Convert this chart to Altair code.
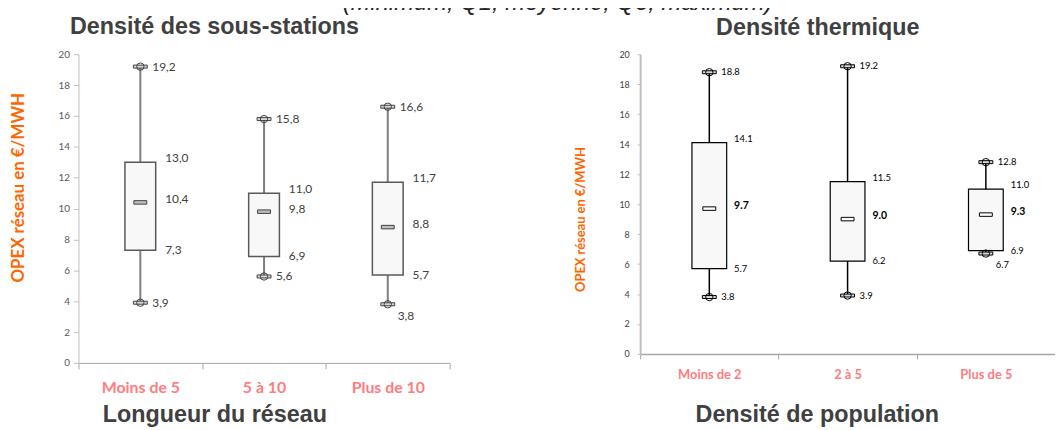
import altair as alt
import pandas as pd

# ---------------- data ----------------
subtitle = "(Minimum, Q1, moyenne, Q3, maximum)"

left_title = "Densité des sous-stations"
left_xtitle = "Longueur du réseau"
left_cats = ["Moins de 5", "5 à 10", "Plus de 10"]
left_min = [3.9, 5.6, 3.8]
left_q1 = [7.3, 6.9, 5.7]
left_mean = [10.4, 9.8, 8.8]
left_q3 = [13.0, 11.0, 11.7]
left_max = [19.2, 15.8, 16.6]

right_title = "Densité thermique"
right_xtitle = "Densité de population"
right_cats = ["Moins de 2", "2 à 5", "Plus de 5"]
right_min = [3.8, 3.9, 6.7]
right_q1 = [5.7, 6.2, 6.9]
right_mean = [9.7, 9.0, 9.3]
right_q3 = [14.1, 11.5, 11.0]
right_max = [18.8, 19.2, 12.8]

y_title = "OPEX réseau en €/MWH"
y_ticks = [0, 2, 4, 6, 8, 10, 12, 14, 16, 18, 20]


def fmt_comma(v):
    return f"{v:.1f}".replace(".", ",")


def fmt_dot(v):
    return f"{v:.1f}"


def build_df(cats, mn, q1, mean, q3, mx, fmt):
    return pd.DataFrame({
        "cat": cats, "min": mn, "q1": q1, "mean": mean, "q3": q3, "max": mx,
        "lmin": [fmt(v) for v in mn], "lq1": [fmt(v) for v in q1],
        "lmean": [fmt(v) for v in mean], "lq3": [fmt(v) for v in q3],
        "lmax": [fmt(v) for v in mx],
    })


left_df = build_df(left_cats, left_min, left_q1, left_mean, left_q3, left_max, fmt_comma)
right_df = build_df(right_cats, right_min, right_q1, right_mean, right_q3, right_max, fmt_dot)

TITLE_FONT = "Liberation Sans"
LABEL_FONT = "Lato"
ORANGE = "#FF6600"
PINK = "#FF7C80"
DARK = "#404040"
TITLE_SIZE = 23.5


def panel(df, cats, s):
    xaxis = alt.Axis(
        title=s["xtitle"], titleFont=TITLE_FONT, titleFontSize=TITLE_SIZE, titleFontWeight="bold",
        titleColor=DARK, titleX=s["xtitleX"], titleY=s["xtitleY"], titleBaseline="alphabetic",
        titleAlign="center", labelFont=LABEL_FONT, labelFontSize=s["xlabelSize"],
        labelFontWeight="bold", labelColor=PINK, labelPadding=s["xlabelPad"],
        tickSize=s["xtickSize"], tickColor="#A6A6A6", domainColor="#A6A6A6",
        domainWidth=s["xdomainWidth"], tickWidth=1, tickBand="extent", labelAngle=0, grid=False,
    )
    xenc = alt.X("cat:N", sort=cats, scale=alt.Scale(paddingInner=0, paddingOuter=0), axis=xaxis)
    yscale = alt.Scale(domain=[0, 20], nice=False, zero=True)
    yaxis = alt.Axis(
        values=y_ticks, title=y_title, titleColor=ORANGE, titleFont=LABEL_FONT,
        titleFontSize=s["ytitleSize"], titleFontWeight="bold", titleX=s["ytitleX"],
        titleY=s["ytitleY"], titleAngle=270, titleBaseline="middle", titleAlign="center",
        labelFont=LABEL_FONT, labelFontSize=s["ylabelSize"], labelColor=s["ylabelColor"],
        labelPadding=s["ylabelPad"], tickSize=s["ytickSize"], tickColor="#BFBFBF",
        domainColor="#BFBFBF", domainWidth=s["ydomainWidth"], grid=False,
        labelFlush=False, labelOverlap=False,
    )

    def Y(f):
        return alt.Y(f, type="quantitative", scale=yscale, axis=yaxis)

    base = alt.Chart(df).encode(x=xenc)
    whisk = base.mark_rule(color=s["whisker"], strokeWidth=s["whiskerW"]).encode(
        y=Y("min"), y2=alt.Y2("max"))
    box = base.mark_bar(size=s["boxW"], fill="#F8F8F8", stroke=s["boxStroke"],
                        strokeWidth=s["boxStrokeW"]).encode(y=Y("q1"), y2=alt.Y2("q3"))
    mean = base.mark_tick(size=13, thickness=3.5, fill=s["meanFill"], stroke=s["markStroke"],
                          strokeWidth=1, opacity=1).encode(y=Y("mean"))
    layers = [whisk, box, mean]
    for f in ["min", "max"]:
        layers.append(base.mark_tick(size=14, thickness=3, fill="#D9D9D9", stroke=s["markStroke"],
                                     strokeWidth=1, opacity=1).encode(y=Y(f)))
        layers.append(base.mark_point(shape="circle", size=55, filled=False,
                                      stroke=s["markStroke"], strokeWidth=1, opacity=1)
                      .encode(y=Y(f)))

    def lab(field, dx, dy, bold=False, filt=None):
        c = base.mark_text(align="left", baseline="middle", dx=dx, dy=dy, font=LABEL_FONT,
                           fontSize=s["boldSize"] if bold else s["labSize"],
                           fontWeight="bold" if bold else "normal", color=s["labColor"])
        if filt is not None:
            c = c.transform_filter(filt)
        return c.encode(y=Y(field), text=alt.Text("l" + field + ":N"))

    sp = s["special"]
    layers += [
        lab("max", 12, 0),
        lab("q3", 25, -4),
        lab("mean", 25, -3, bold=s["meanBold"]),
        lab("q1", 25, 0),
        lab("min", 12, 0, filt=alt.datum.cat != sp),
        lab("min", 10, 12, filt=alt.datum.cat == sp),
    ]
    return alt.layer(*layers).properties(
        width=s["w"], height=s["h"],
        title=alt.TitleParams(s["title"], font=TITLE_FONT, fontSize=TITLE_SIZE, fontWeight="bold",
                              color=DARK, anchor="middle", dx=s["titleDx"], offset=s["titleOff"],
                              frame="group"),
    )


left = panel(left_df, left_cats, dict(
    xtitle=left_xtitle, title=left_title, w=374, h=311, titleDx=-50, titleOff=11,
    xtitleX=137, xtitleY=59, xlabelSize=16, xlabelPad=11, xtickSize=6, xdomainWidth=1,
    ytitleSize=17, ytitleX=-60, ytitleY=134, ylabelSize=10, ylabelColor="#595959",
    ylabelPad=4, ytickSize=5, ydomainWidth=1,
    whisker="#7F7F7F", whiskerW=2, boxW=31, boxStroke="#595959", boxStrokeW=1.5,
    meanFill="#BFBFBF", markStroke="#404040", labSize=12, boldSize=12, labColor=DARK,
    meanBold=False, special="Plus de 10",
))

right = panel(right_df, right_cats, dict(
    xtitle=right_xtitle, title=right_title, w=418, h=302, titleDx=-30, titleOff=11,
    xtitleX=178, xtitleY=68, xlabelSize=13, xlabelPad=10, xtickSize=5, xdomainWidth=1.5,
    ytitleSize=13, ytitleX=-60, ytitleY=166, ylabelSize=9, ylabelColor=DARK,
    ylabelPad=8, ytickSize=3, ydomainWidth=2,
    whisker="#000000", whiskerW=1.5, boxW=35, boxStroke="#000000", boxStrokeW=1.2,
    meanFill="#FFFFFF", markStroke="#000000", labSize=9.5, boldSize=10.5, labColor="#000000",
    meanBold=True, special="Plus de 5",
))

chart = alt.hconcat(left, right, spacing=192, bounds="flush").properties(
    title=alt.TitleParams(subtitle, font=TITLE_FONT, fontSize=24, fontStyle="italic",
                          fontWeight="normal", color="#262626", anchor="middle", dx=25, offset=0),
    autosize=alt.AutoSizeParams(type="none"),
    padding={"left": 71, "top": 45, "right": 984, "bottom": 377},
).configure_view(stroke=None)

chart.save("out.html", embed_options={"renderer": "svg", "actions": False})
